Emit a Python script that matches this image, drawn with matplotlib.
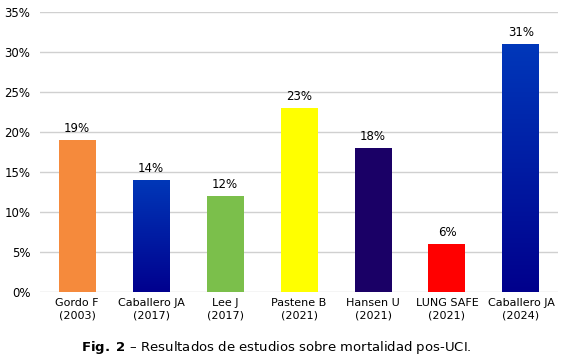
import numpy as np
import matplotlib
matplotlib.use('Agg')
import matplotlib.pyplot as plt
from matplotlib.colors import LinearSegmentedColormap

studies = ['Gordo F\n(2003)', 'Caballero JA\n(2017)', 'Lee J\n(2017)', 'Pastene B\n(2021)',
           'Hansen U\n(2021)', 'LUNG SAFE\n(2021)', 'Caballero JA\n(2024)']
mortality = [19, 14, 12, 23, 18, 6, 31]
# (top colour, bottom colour) per bar
bar_colors = [('#F58A3C', '#F58A3C'), ('#0038B8', '#00008E'), ('#7BBF4B', '#7BBF4B'),
              ('#FFFF00', '#FFFF00'), ('#1A0066', '#1A0066'), ('#FF0000', '#FF0000'),
              ('#0038BA', '#00008C')]
yticks = [0, 5, 10, 15, 20, 25, 30, 35]

plt.rcParams['font.family'] = ['DejaVu Sans']
fig = plt.figure(figsize=(5.72, 3.58), dpi=100)
ax = fig.add_axes([0.07, 0.184, 0.9055, 0.7825])

x = np.arange(len(studies))
bars = ax.bar(x, mortality, width=0.5, color=[c[0] for c in bar_colors], zorder=2)

# gradient fill for bars whose colours differ
for b, (top, bot) in zip(bars, bar_colors):
    if top == bot:
        continue
    cmap = LinearSegmentedColormap.from_list('g', [bot, top])
    grad = np.linspace(0, 1, 256).reshape(-1, 1)
    x0, w, h = b.get_x(), b.get_width(), b.get_height()
    im = ax.imshow(grad, cmap=cmap, aspect='auto', origin='lower',
                   extent=[x0, x0 + w, 0, h], zorder=3)
    im.set_clip_path(b)

for xi, v in zip(x, mortality):
    ax.text(xi, v + 0.6, f'{v}%', ha='center', va='bottom', fontsize=8.5, color='black')

ax.set_xlim(-0.5, len(studies) - 0.5)
ax.set_ylim(0, 35)
ax.set_yticks(yticks)
ax.set_yticklabels([f'{t}%' for t in yticks], fontsize=8.5)
ax.set_xticks(x)
ax.set_xticklabels(studies, fontsize=8, linespacing=1.35)
ax.tick_params(length=0, pad=7)
ax.tick_params(axis='x', pad=4)
ax.grid(axis='y', color='#D0D0D0', linewidth=1, zorder=0)
for s in ax.spines.values():
    s.set_visible(False)

fig.text(0.483, 0.03, r'$\bf{Fig.\ 2\ –}$ Resultados de estudios sobre mortalidad pos-UCI.',
         ha='center', va='center', fontsize=9.5)

fig.savefig('out.png', dpi=100)
